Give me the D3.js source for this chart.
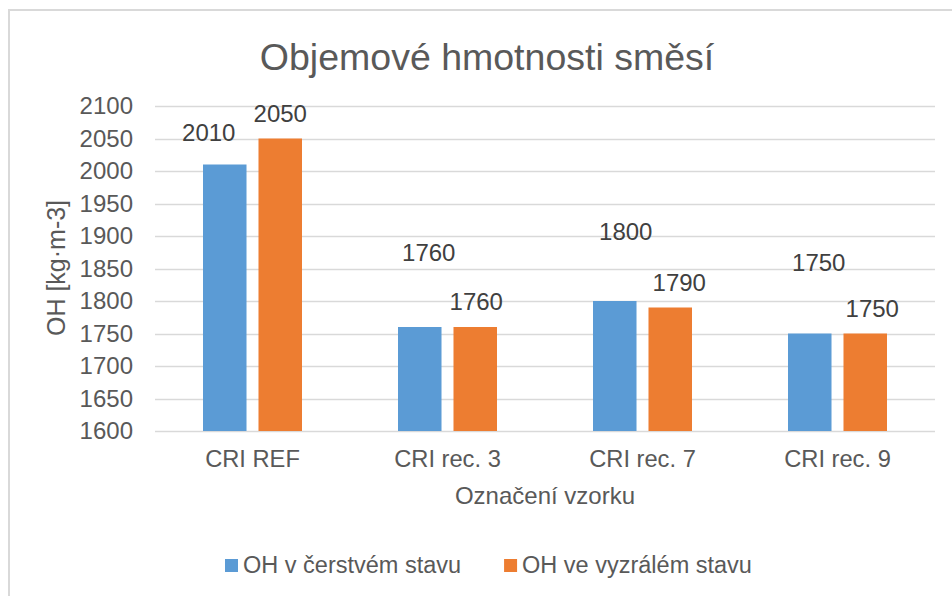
<!DOCTYPE html>
<html>
<head>
<meta charset="utf-8">
<script src="https://cdn.jsdelivr.net/npm/d3@7"></script>
<style>
  body { margin: 0; background: #fff; }
  svg text { font-family: "Liberation Sans", Arial, sans-serif; }
</style>
</head>
<body>
<div id="chart"></div>
<script>
// data
const categories = ["CRI REF", "CRI rec. 3", "CRI rec. 7", "CRI rec. 9"];
const seriesNames = ["OH v čerstvém stavu", "OH ve vyzrálém stavu"];
const fresh = [2010, 1760, 1800, 1750];
const matured = [2050, 1760, 1790, 1750];
const yTicks = [1600, 1650, 1700, 1750, 1800, 1850, 1900, 1950, 2000, 2050, 2100];

const colors = ["#5B9BD5", "#ED7D31"];

// manual label nudges (px), like the moved labels in the original workbook
const labelNudge = [
  [[-16, -7], [0, 0]],
  [[9, -49], [1, 0]],
  [[11, -44], [9, 0]],
  [[9, -46], [7, 0]]
];

const width = 952, height = 596;
const svg = d3.select("#chart").append("svg")
  .attr("width", width)
  .attr("height", height);

/*
Chart frame
*/
svg.append("rect")
  .attr("x", 9).attr("y", 10)
  .attr("width", 1000).attr("height", 700)
  .attr("fill", "#fff")
  .attr("stroke", "#d9d9d9")
  .attr("stroke-width", 2);

svg.append("text")
  .attr("x", 487).attr("y", 70)
  .attr("text-anchor", "middle")
  .attr("font-size", 37.5)
  .attr("fill", "#595959")
  .text("Objemové hmotnosti směsí");

/*
Scales
*/
const x0 = d3.scaleBand().domain(categories).range([155, 935]);
const x1 = d3.scaleBand().domain(seriesNames).range([0, x0.bandwidth()])
  .paddingInner(0.216).paddingOuter(0.865);
const y = d3.scaleLinear().domain([1600, 2100]).range([431, 106]);

/*
Gridlines and axes
*/
svg.append("g")
  .selectAll("line")
  .data(yTicks)
  .join("line")
  .attr("x1", 155).attr("x2", 935)
  .attr("y1", d => Math.round(y(d)) + 0.5)
  .attr("y2", d => Math.round(y(d)) + 0.5)
  .attr("stroke", "#d9d9d9")
  .attr("stroke-width", 1.3);

const yAxis = svg.append("g")
  .attr("transform", "translate(133,0)")
  .call(d3.axisLeft(y).tickValues(yTicks).tickSize(0).tickPadding(0).tickFormat(d3.format("d")));
yAxis.select(".domain").remove();
yAxis.selectAll("text")
  .attr("font-size", 24)
  .attr("fill", "#595959")
  .attr("font-family", "Liberation Sans, Arial, sans-serif");

const xAxis = svg.append("g")
  .attr("transform", "translate(0,431)")
  .call(d3.axisBottom(x0).tickSize(0).tickPadding(0));
xAxis.select(".domain").remove();
xAxis.selectAll("text")
  .attr("y", 36)
  .attr("dy", 0)
  .attr("font-size", 23.7)
  .attr("fill", "#595959")
  .attr("font-family", "Liberation Sans, Arial, sans-serif");

svg.append("text")
  .attr("transform", "translate(65,268) rotate(-90)")
  .attr("text-anchor", "middle")
  .attr("font-size", 25)
  .attr("fill", "#595959")
  .text("OH [kg·m-3]");

svg.append("text")
  .attr("x", 545).attr("y", 504)
  .attr("text-anchor", "middle")
  .attr("font-size", 24)
  .attr("fill", "#595959")
  .text("Označení vzorku");

/*
Bars
*/
const rows = categories.map((c, i) => ({
  cat: c,
  i: i,
  vals: [
    { s: seriesNames[0], v: fresh[i], k: 0 },
    { s: seriesNames[1], v: matured[i], k: 1 }
  ]
}));

const groups = svg.append("g")
  .selectAll("g")
  .data(rows)
  .join("g")
  .attr("transform", d => `translate(${x0(d.cat)},0)`);

groups.selectAll("rect")
  .data(d => d.vals)
  .join("rect")
  .attr("x", d => x1(d.s))
  .attr("width", x1.bandwidth())
  .attr("y", d => y(d.v))
  .attr("height", d => y(1600) - y(d.v))
  .attr("fill", d => colors[d.k]);

groups.selectAll("text.lbl")
  .data(d => d.vals.map(v => ({ ...v, i: d.i })))
  .join("text")
  .attr("class", "lbl")
  .attr("x", d => x1(d.s) + x1.bandwidth() / 2 + labelNudge[d.i][d.k][0])
  .attr("y", d => y(d.v) - 17 + labelNudge[d.i][d.k][1])
  .attr("text-anchor", "middle")
  .attr("font-size", 24)
  .attr("fill", "#404040")
  .text(d => d.v);

/*
Legend
*/
const legend = svg.append("g").attr("transform", "translate(225,559)");
let lx = 0;
seriesNames.forEach((name, k) => {
  const item = legend.append("g").attr("transform", `translate(${lx},0)`);
  item.append("rect")
    .attr("width", 13).attr("height", 13)
    .attr("fill", colors[k]);
  const t = item.append("text")
    .attr("x", 18).attr("y", 13.5)
    .attr("font-size", 23.5)
    .attr("fill", "#595959")
    .text(name);
  lx += 18 + t.node().getComputedTextLength() + 43;
});
</script>
</body>
</html>
